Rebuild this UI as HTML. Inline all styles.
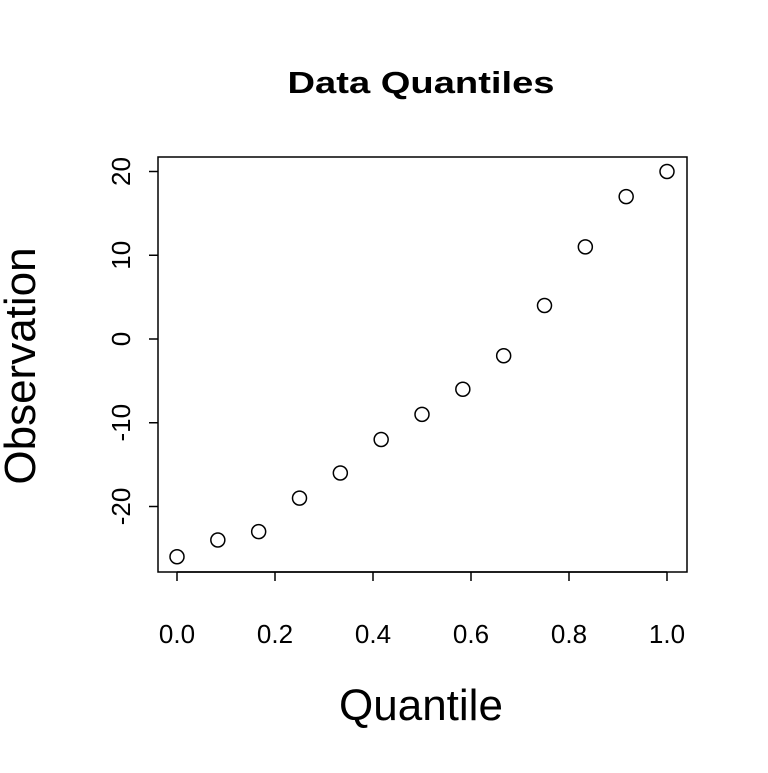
<!DOCTYPE html>
<html><head><meta charset="utf-8"><style>
body{margin:0;background:#fff;}
svg text{font-family:"Liberation Sans",Arial,sans-serif;fill:#000;}
</style></head><body>
<svg id="chart" width="768" height="768" viewBox="0 0 768 768">
<rect width="768" height="768" fill="#fff"/>
<text x="421" y="93" font-size="31" font-weight="bold" text-anchor="middle" textLength="267" lengthAdjust="spacingAndGlyphs">Data Quantiles</text>
<rect x="158" y="157" width="529" height="415" fill="none" stroke="#000" stroke-width="1.5"/>
<g id="xaxis"></g>
<g id="yaxis"></g>
<g id="points"></g>
<text x="421" y="720" font-size="44" text-anchor="middle">Quantile</text>
<text transform="translate(35,366) rotate(-90)" font-size="44" text-anchor="middle">Observation</text>
</svg>
<script>
const xTicks=[0,0.2,0.4,0.6,0.8,1.0];
const xTickLabels=["0.0","0.2","0.4","0.6","0.8","1.0"];
const yTicks=[-20,-10,0,10,20];
const yTickLabels=["-20","-10","0","10","20"];
const quantiles=[0,1/12,2/12,3/12,4/12,5/12,6/12,7/12,8/12,9/12,10/12,11/12,1];
const observations=[-26,-24,-23,-19,-16,-12,-9,-6,-2,4,11,17,20];
const NS="http://www.w3.org/2000/svg";
function sx(v){return 177+v*490;}
function sy(v){return 339-v*8.375;}
function mk(tag,attrs,parent){const e=document.createElementNS(NS,tag);for(const k in attrs)e.setAttribute(k,attrs[k]);parent.appendChild(e);return e;}
const xa=document.getElementById('xaxis'),ya=document.getElementById('yaxis'),pts=document.getElementById('points');
mk('line',{x1:sx(0),x2:sx(1),y1:572,y2:572,stroke:'#000','stroke-width':1.5},xa);
xTicks.forEach((t,i)=>{
 const l=mk('line',{x1:sx(t),x2:sx(t),y1:572,y2:581,stroke:'#000','stroke-width':1.5},xa);
 
 
 const tx=mk('text',{x:sx(t),y:643,'font-size':26,'text-anchor':'middle'},xa);
 tx.textContent=xTickLabels[i];
 
 
});
yTicks.forEach((t,i)=>{
 const l=mk('line',{x1:149,x2:158,y1:sy(t),y2:sy(t),stroke:'#000','stroke-width':1.5},ya);
 
 
 const tx=mk('text',{transform:`translate(130,${sy(t)}) rotate(-90)`,'font-size':26,'text-anchor':'middle'},ya);
 tx.textContent=yTickLabels[i];
 
 
});
quantiles.forEach((q,i)=>{
 const c=mk('circle',{cx:sx(q),cy:sy(observations[i]),r:7,fill:'none',stroke:'#000','stroke-width':1.5},pts);
 
 
});
</script>
</body></html>
